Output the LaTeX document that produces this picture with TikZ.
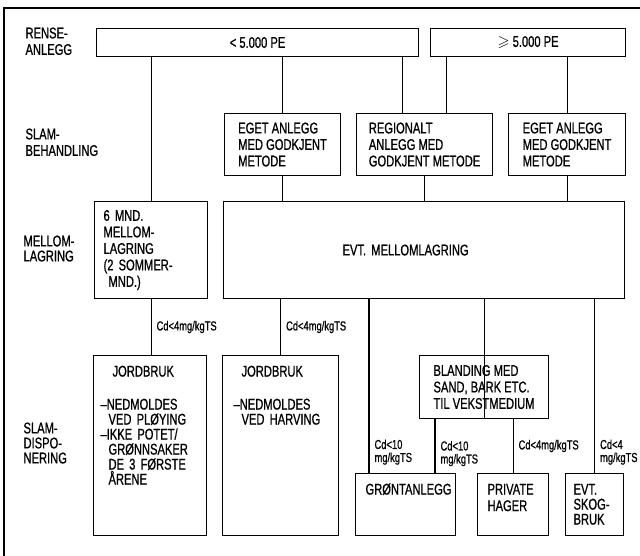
\documentclass[tikz,border=0pt]{standalone}
\usepackage{amssymb}
\usepackage{fontspec}
\setmainfont{Liberation Sans}[FakeStretch=0.72,FakeBold=0.8]
\usetikzlibrary{calc}

\begin{document}
\begin{tikzpicture}[x=1pt,y=-1pt,line width=1.1pt,
    font=\fontsize{15.5}{16.5}\selectfont,
    box/.style={draw,anchor=north west,align=left,inner sep=0pt},
    topbox/.style={box,inner ysep=10pt,text height=11pt,text depth=#1},
    tight/.style={font=\fontsize{15.5}{15}\selectfont},
    cd/.style={right,align=left,inner sep=5pt,font=\fontsize{13}{13}\selectfont},
    lbl/.style={anchor=north west,align=left,inner sep=0pt}]

\useasboundingbox (0,0) rectangle (640,556);

% Frame
\draw (4,556) -- (4,8) -- (640,8);

% Row labels
\node[lbl] (rense) at (25,27) {RENSE-\\ANLEGG};
\node[lbl] (slambeh) at (25,128) {SLAM-\\BEHANDLING};
\node[lbl,tight] (mellom) at (23,235) {MELLOM-\\LAGRING};
\node[lbl,tight] (slamdisp) at (23,422) {SLAM-\\DISPO-\\NERING};

% Renseanlegg
\node[box,minimum width=322,minimum height=28] (lite) at (96,28) {< 5.000 PE};
\node[box,minimum width=195,minimum height=28] (stor) at (430,28) {$\geqslant$ 5.000 PE};

% Slambehandling
\node[box,minimum width=116,minimum height=62] (egetA) at (224,113)
    {EGET ANLEGG\\MED GODKJENT\\METODE};
\node[box,minimum width=136,minimum height=62] (regional) at (356,113)
    {REGIONALT\\ANLEGG MED\\GODKJENT METODE};
\node[box,minimum width=117,minimum height=62] (egetB) at (508,113)
    {EGET ANLEGG\\MED GODKJENT\\METODE};

% Mellomlagring
\node[box,minimum width=113,minimum height=97,text width=95] (mnd6) at (94,201)
    {6 MND.\\MELLOM-\\LAGRING\\(2 SOMMER-\\\hspace*{5pt}MND.)};
\node[box,minimum width=401,minimum height=97,text width=163] (evtml) at (223,201)
    {EVT. MELLOMLAGRING};

% Slamdisponering
\node[topbox=149,tight,minimum width=113,text width=99] (jord1) at (93,355)
    {\hspace*{12pt}JORDBRUK\\[18pt]--NEDMOLDES\\\hspace*{8pt}VED PLØYING\\--IKKE POTET/\\
     \hspace*{8pt}GRØNNSAKER\\\hspace*{8pt}DE 3 FØRSTE\\\hspace*{8pt}ÅRENE};
\node[topbox=149,tight,minimum width=116,text width=94] (jord2) at (222,355)
    {\hspace*{8pt}JORDBRUK\\[18pt]--NEDMOLDES\\\hspace*{8pt}VED HARVING};
\node[box,minimum width=129,minimum height=63] (bland) at (419,355)
    {BLANDING MED\\SAND, BARK ETC.\\TIL VEKSTMEDIUM};
\node[topbox=31,minimum width=100,text width=80] (gront) at (355,473) {GRØNTANLEGG};
\node[topbox=31,minimum width=71,text width=51] (privat) at (477,473) {PRIVATE\\HAGER};
\node[topbox=31,tight,minimum width=58,text width=42] (skog) at (565,473) {EVT.\\SKOG-\\BRUK};

% Extra drop points
\coordinate (r1) at ($(regional.north)+(-22,0)$);
\coordinate (r2) at ($(regional.north)+(22,0)$);
\coordinate (g1) at ($(gront.north west)+(14,0)$);
\coordinate (g2) at ($(gront.north west)+(80,0)$);

% Connections
\draw (lite.south -| mnd6.north) -- (mnd6.north);
\draw (lite.south -| egetA.north) -- (egetA.north);
\draw (r1 |- lite.south) -- (r1);
\draw (r2 |- stor.south) -- (r2);
\draw (stor.south -| egetB.north) -- (egetB.north);

\draw (egetA.south) -- (egetA.south |- evtml.north);
\draw (regional.south) -- (regional.south |- evtml.north);
\draw (egetB.south) -- (egetB.south |- evtml.north);

\draw (mnd6.south) -- node[cd] {Cd<4mg/kgTS} (mnd6.south |- jord1.north);
\draw (jord2.north) -- node[cd] {Cd<4mg/kgTS} (jord2.north |- evtml.south);
\draw (g1) -- node[cd,pos=.12] {Cd<10\\mg/kgTS} (g1 |- evtml.south);
\draw (g2) -- node[cd,pos=.36] {Cd<10\\mg/kgTS} (g2 |- bland.south);
\draw (bland.south -| bland.north) -- (bland.north |- evtml.south);
\draw (privat.north) -- node[cd] {Cd<4mg/kgTS} (privat.north |- bland.south);
\draw (skog.north) -- node[cd,pos=.12] {Cd<4\\mg/kgTS} (skog.north |- evtml.south);

\end{tikzpicture}
\end{document}
